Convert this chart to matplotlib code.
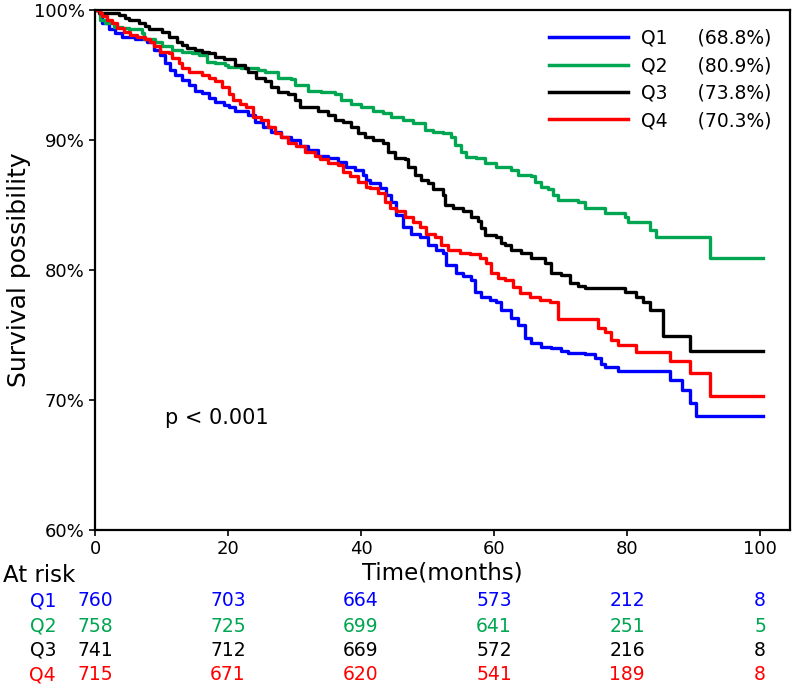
import numpy as np
import matplotlib
matplotlib.use('Agg')
import matplotlib.pyplot as plt

# Kaplan-Meier steps: (time in months, survival %)
q1_t = [0, 0.75, 1.05, 2.1, 3.0, 4.1, 6.0, 7.8, 8.9, 9.8, 10.5, 11.3, 12.0, 13.1, 14.1, 15.0, 16.1, 17.1, 18.0, 19.4,
        20.2, 21.1, 23.0, 24.1, 25.3, 26.5, 28.0, 29.5, 30.8, 32.0, 33.5, 35.0, 36.5, 37.7, 39.1, 40.3, 40.8, 41.4,
        42.9, 43.8, 44.5, 45.3, 46.3, 47.5, 48.9, 50.1, 51.3, 52.3, 52.8, 54.3, 55.3, 56.5, 57.1, 58.0, 59.4, 60.3,
        61.1, 62.6, 63.6, 64.7, 65.6, 67.1, 68.6, 70.1, 71.1, 73.7, 75.2, 76.1, 76.7, 78.6, 86.5, 88.3, 89.5, 90.4]
q1_s = [100, 99.6, 99.0, 98.5, 98.2, 97.9, 97.8, 97.5, 96.9, 96.5, 95.9, 95.4, 95.0, 94.6, 94.2, 93.8, 93.6, 93.2, 92.9, 92.7,
        92.5, 92.2, 91.9, 91.4, 91.0, 90.6, 90.2, 90.0, 89.5, 89.2, 88.8, 88.6, 88.3, 87.9, 87.7, 87.3, 86.9, 86.7,
        86.3, 85.8, 85.2, 84.2, 83.3, 82.8, 82.5, 81.9, 81.5, 81.3, 80.4, 79.8, 79.5, 79.2, 78.3, 77.9, 77.7, 77.5,
        76.9, 76.3, 75.8, 74.8, 74.4, 74.1, 74.0, 73.8, 73.6, 73.5, 73.2, 72.8, 72.5, 72.2, 71.5, 70.8, 69.8, 68.8]

q2_t = [0, 0.75, 1.5, 2.9, 4.1, 5.1, 7.1, 7.4, 9.0, 10.1, 11.6, 13.1, 14.6, 15.6, 16.8, 18.0, 19.5, 20.0, 21.9, 24.5,
        25.6, 27.5, 29.5, 30.1, 32.0, 34.0, 36.1, 37.0, 38.5, 40.0, 41.8, 43.3, 44.5, 46.3, 47.8, 49.6, 50.8, 52.3,
        53.5, 54.1, 55.0, 55.8, 57.3, 58.6, 60.3, 62.6, 63.6, 65.6, 66.2, 67.1, 68.1, 68.9, 69.6, 72.6, 73.7, 76.7,
        79.7, 80.2, 83.5, 84.4, 92.5]
q2_s = [100, 99.2, 99.0, 98.7, 98.6, 98.5, 98.2, 97.8, 97.5, 97.2, 96.9, 96.8, 96.7, 96.5, 96.0, 95.9, 95.8, 95.6, 95.5, 95.4,
        95.2, 94.8, 94.7, 94.2, 93.8, 93.7, 93.5, 93.1, 92.8, 92.5, 92.2, 92.1, 91.8, 91.5, 91.3, 90.8, 90.6, 90.5,
        90.2, 89.6, 89.1, 88.7, 88.6, 88.2, 87.9, 87.7, 87.3, 87.2, 86.8, 86.4, 86.2, 85.8, 85.4, 85.2, 84.8, 84.4,
        84.1, 83.7, 83.1, 82.5, 80.9]

q3_t = [0, 0.6, 3.6, 4.5, 5.1, 6.6, 7.5, 8.1, 10.1, 11.1, 12.3, 13.1, 13.8, 15.0, 16.1, 17.1, 18.0, 19.4, 21.1, 22.6,
        23.0, 24.2, 25.6, 26.5, 27.5, 29.0, 30.1, 30.8, 33.5, 35.0, 36.1, 37.3, 38.5, 39.5, 40.6, 41.8, 43.3, 44.1,
        45.1, 46.6, 47.1, 48.1, 49.0, 50.1, 50.8, 52.3, 52.6, 53.8, 55.3, 56.5, 57.6, 58.0, 58.6, 60.3, 61.1, 61.7,
        62.6, 64.1, 65.6, 67.7, 68.6, 70.1, 71.4, 72.6, 73.7, 79.7, 81.4, 82.4, 83.5, 85.4, 89.5]
q3_s = [100, 99.8, 99.6, 99.4, 99.2, 99.0, 98.8, 98.5, 98.3, 97.9, 97.5, 97.3, 97.1, 96.9, 96.8, 96.7, 96.4, 96.2, 95.8, 95.5,
        95.2, 94.8, 94.5, 94.1, 93.7, 93.5, 93.1, 92.5, 92.2, 91.9, 91.5, 91.4, 91.0, 90.5, 90.2, 90.0, 89.8, 89.1,
        88.6, 88.5, 87.9, 87.3, 86.9, 86.7, 86.2, 85.8, 85.0, 84.8, 84.5, 84.1, 83.8, 83.2, 82.7, 82.5, 82.1, 81.9,
        81.5, 81.3, 80.9, 80.5, 79.8, 79.6, 79.0, 78.8, 78.6, 78.3, 77.9, 77.5, 76.9, 74.9, 73.8]

q4_t = [0, 0.75, 1.05, 1.8, 2.6, 3.3, 4.4, 5.3, 6.3, 7.5, 8.3, 8.9, 9.8, 11.1, 11.6, 12.6, 13.1, 14.1, 16.1, 17.1,
        18.0, 19.1, 20.2, 20.8, 21.8, 22.7, 23.8, 25.0, 26.0, 27.1, 28.0, 29.0, 30.2, 31.6, 33.1, 33.8, 35.0, 36.5,
        37.3, 38.3, 39.5, 40.8, 41.4, 42.6, 43.6, 44.4, 45.3, 46.6, 47.8, 48.9, 49.8, 51.1, 52.0, 53.1, 54.9, 56.4,
        57.9, 58.8, 59.5, 60.6, 61.7, 62.9, 63.9, 65.4, 66.9, 68.4, 69.6, 75.6, 76.7, 77.6, 78.6, 81.3, 86.5, 89.5,
        92.5]
q4_s = [100, 99.8, 99.5, 99.2, 99.0, 98.6, 98.3, 98.1, 97.9, 97.8, 97.5, 97.2, 96.8, 96.7, 96.3, 95.9, 95.5, 95.2, 95.0, 94.8,
        94.5, 94.1, 93.5, 93.1, 92.8, 92.5, 91.8, 91.5, 91.0, 90.5, 90.2, 89.8, 89.5, 89.1, 88.8, 88.5, 88.2, 88.1,
        87.5, 87.2, 86.8, 86.4, 86.3, 85.9, 85.2, 84.8, 84.5, 84.1, 83.7, 83.3, 82.8, 82.5, 81.9, 81.5, 81.3, 81.2,
        80.9, 80.5, 79.8, 79.4, 79.2, 78.7, 78.2, 77.9, 77.7, 77.5, 76.2, 75.5, 75.2, 74.6, 74.2, 73.7, 73.0, 72.1,
        70.3]

followup_end = 100.5
groups = ['Q1', 'Q2', 'Q3', 'Q4']
final_pct = ['68.8%', '80.9%', '73.8%', '70.3%']
colors = ['#0000ff', '#00a651', '#000000', '#ff0000']

risk_times = [0, 20, 40, 60, 80, 100]
at_risk = [[760, 703, 664, 573, 212, 8],
           [758, 725, 699, 641, 251, 5],
           [741, 712, 669, 572, 216, 8],
           [715, 671, 620, 541, 189, 8]]

curves = [(q1_t, q1_s), (q2_t, q2_s), (q3_t, q3_s), (q4_t, q4_s)]

fig = plt.figure(figsize=(7.93, 6.88), dpi=100)
ax = fig.add_axes([0.1198, 0.2297, 0.8764, 0.7558])

for (t, s), g, c, p in zip(curves, groups, colors, final_pct):
    tt = list(t) + [followup_end]
    ss = list(s) + [s[-1]]
    ax.step(tt, ss, where='post', color=c, lw=2.4, label=f'{g}     ({p})')

ax.set_xlim(0, 104.5)
ax.set_ylim(60, 100)
ax.set_xticks(risk_times)
ax.set_yticks([60, 70, 80, 90, 100])
ax.set_yticklabels(['60%', '70%', '80%', '90%', '100%'])
ax.tick_params(labelsize=13, width=1.2, length=4)
for sp in ax.spines.values():
    sp.set_linewidth(1.6)

ax.set_ylabel('Survival possibility', fontsize=18, labelpad=2)
ax.text(10.5, 68.6, 'p < 0.001', fontsize=15, va='center')

leg = ax.legend(loc='upper right', frameon=False, fontsize=13.5, handlelength=4.2,
                handletextpad=0.7, labelspacing=0.45, borderaxespad=0.6)
for ln in leg.get_lines():
    ln.set_linewidth(2.5)

# at-risk table under the axis
fig.text(0.5580, 1 - 573 / 688, 'Time(months)', fontsize=16.5, ha='center', va='center')
fig.text(0.004, 1 - 576 / 688, 'At risk', fontsize=16.5, ha='left', va='center')
row_y = [601, 626, 650, 675]
for g, c, row, yy in zip(groups, colors, at_risk, row_y):
    yf = 1 - yy / 688
    fig.text(56 / 793, yf, g, color=c, fontsize=13.5, ha='right', va='center')
    for tm, n in zip(risk_times, row):
        xd = ax.transData.transform((tm, 60))[0]
        fig.text(xd / 793, yf, str(n), color=c, fontsize=13.5, ha='center', va='center')

fig.savefig('out.png', dpi=100)
